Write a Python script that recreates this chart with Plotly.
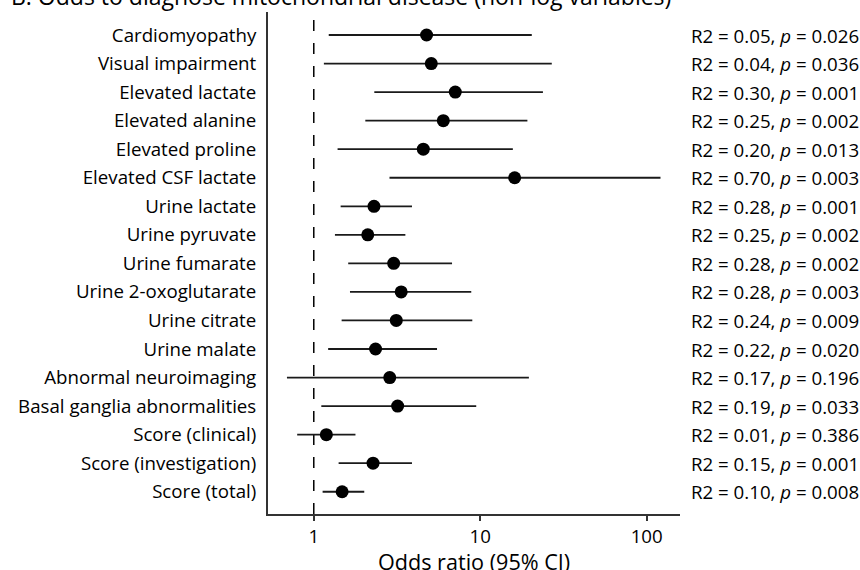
import plotly.graph_objects as go

categories = [
    "Cardiomyopathy", "Visual impairment", "Elevated lactate", "Elevated alanine",
    "Elevated proline", "Elevated CSF lactate", "Urine lactate", "Urine pyruvate",
    "Urine fumarate", "Urine 2-oxoglutarate", "Urine citrate", "Urine malate",
    "Abnormal neuroimaging", "Basal ganglia abnormalities", "Score (clinical)",
    "Score (investigation)", "Score (total)",
]
odds_ratio = [4.76, 5.08, 7.08, 6.0, 4.55, 16.1, 2.30, 2.11, 3.02, 3.35, 3.13, 2.35, 2.86, 3.19, 1.19, 2.27, 1.48]
ci_low = [1.23, 1.15, 2.31, 2.04, 1.39, 2.85, 1.45, 1.34, 1.61, 1.65, 1.47, 1.22, 0.69, 1.11, 0.795, 1.41, 1.13]
ci_high = [20.4, 26.9, 23.8, 19.2, 15.7, 121, 3.89, 3.55, 6.77, 8.83, 8.96, 5.50, 19.6, 9.46, 1.78, 3.89, 2.01]
r2 = ["0.05", "0.04", "0.30", "0.25", "0.20", "0.70", "0.28", "0.25", "0.28", "0.28", "0.24", "0.22", "0.17", "0.19", "0.01", "0.15", "0.10"]
p_values = ["0.026", "0.036", "0.001", "0.002", "0.013", "0.003", "0.001", "0.002", "0.002", "0.003", "0.009", "0.020", "0.196", "0.033", "0.386", "0.001", "0.008"]
x_ticks = [1, 10, 100]
title_text = "B: Odds to diagnose mitochondrial disease (non-log variables)"
x_title = "Odds ratio (95% CI)"

FONT = "Open Sans"
FS = 18.7
AX = "#333333"

fig = go.Figure()
fig.add_trace(go.Scatter(
    x=odds_ratio, y=categories, mode="markers",
    marker=dict(color="black", size=13),
    error_x=dict(type="data", symmetric=False,
                 array=[h - o for h, o in zip(ci_high, odds_ratio)],
                 arrayminus=[o - l for o, l in zip(odds_ratio, ci_low)],
                 color="#1a1a1a", thickness=1.8, width=0),
    showlegend=False, hoverinfo="skip",
))

fig.add_shape(type="line", xref="x", yref="paper", x0=1, x1=1, y0=0, y1=1,
              line=dict(color="black", width=1.5, dash="11px,12px"), layer="below")

for cat, r, p in zip(categories, r2, p_values):
    fig.add_annotation(x=1.021, xref="paper", y=cat, yref="y", xanchor="left",
                       text=f"R2 = {r}, <i>p</i> = {p}", showarrow=False,
                       font=dict(family=FONT, size=FS, color="black"))

fig.add_annotation(x=-0.629, xref="paper", y=1.0, yref="paper", yanchor="bottom",
                   yshift=-2, xanchor="left", text=title_text, showarrow=False,
                   font=dict(family=FONT, size=23, color="black"))

# x-axis title placed as an annotation under the axis
fig.add_annotation(x=0.5, xref="paper", y=0, yref="paper", yanchor="middle",
                   yshift=-47, xanchor="center", text=x_title, showarrow=False,
                   font=dict(family=FONT, size=21.6, color="black"))

fig.update_xaxes(type="log", range=[-0.275, 2.2], tickvals=x_ticks,
                 ticktext=[str(t) for t in x_ticks], automargin=False,
                 showgrid=False, zeroline=False, showline=True, linecolor=AX, linewidth=2,
                 ticks="outside", ticklen=5, tickwidth=1.5, tickcolor=AX,
                 tickfont=dict(family=FONT, size=FS, color="black"))
fig.update_yaxes(type="category", categoryorder="array", categoryarray=categories,
                 range=[16.78, -0.806], showgrid=False, zeroline=False, automargin=False,
                 showline=True, linecolor=AX, linewidth=2, ticks="", ticklabelstandoff=6,
                 tickfont=dict(family=FONT, size=FS, color="black"))

fig.update_layout(template="none", width=860, height=570,
                  margin=dict(l=267.5, r=180, t=12, b=56, pad=0),
                  plot_bgcolor="white", paper_bgcolor="white",
                  font=dict(family=FONT, size=FS, color="black"))

fig.write_html("out.html", config={"displayModeBar": False},
               post_script="document.body.style.margin='0';document.body.style.overflow='hidden';")
